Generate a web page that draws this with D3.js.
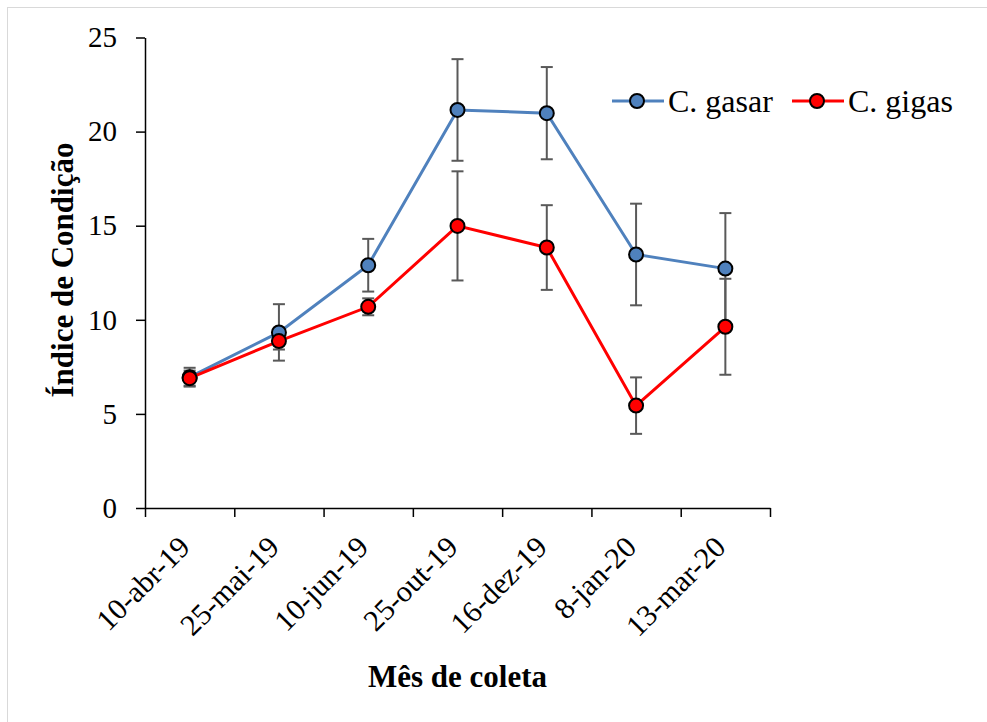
<!DOCTYPE html>
<html>
<head>
<meta charset="utf-8">
<script src="https://cdn.jsdelivr.net/npm/d3@7"></script>
<style>
  body { margin: 0; background: #fff; }
  text { font-family: "Liberation Serif", "Times New Roman", serif; fill: #000; }
</style>
</head>
<body>
<div class="container"></div>
<script>
// collection dates
let dates = ["10-abr-19", "25-mai-19", "10-jun-19", "25-out-19", "16-dez-19", "8-jan-20", "13-mar-20"];
// condition index, mean and error
let gasar = [6.95, 9.33, 12.9, 21.15, 20.98, 13.47, 12.72];
let gasarErr = [0.5, 1.5, 1.4, 2.7, 2.45, 2.7, 2.95];
let gigas = [6.9, 8.87, 10.69, 14.99, 13.84, 5.44, 9.63];
let gigasErr = [0.4, 0.45, 0.45, 2.9, 2.25, 1.5, 2.55];
let yTicks = [0, 5, 10, 15, 20, 25];

let series = [
  { name: "C. gasar", values: gasar, err: gasarErr, color: "#4f81bd" },
  { name: "C. gigas", values: gigas, err: gigasErr, color: "#ff0000" }
];

let svg = d3.select(".container")
  .append("svg")
  .attr("width", 987)
  .attr("height", 722);

svg.append("rect")
  .attr("x", 7.5)
  .attr("y", 7.5)
  .attr("width", 1000)
  .attr("height", 1000)
  .attr("fill", "none")
  .attr("stroke", "#d9d9d9");

let x = d3.scaleBand()
  .domain(dates)
  .range([145, 770]);
let xEdge = d3.scaleLinear()
  .domain([0, dates.length])
  .range([145, 770]);
let y = d3.scaleLinear()
  .domain([0, 25])
  .range([508, 37.5]);

// y axis
let yAxis = svg.append("g")
  .attr("transform", "translate(145,0)")
  .call(d3.axisLeft(y).tickValues(yTicks).tickSize(9).tickSizeOuter(0).tickPadding(19));
yAxis.attr("font-family", null);
yAxis.selectAll("text")
  .attr("font-size", 29);

// x axis with ticks between categories
let xAxis = svg.append("g")
  .attr("transform", "translate(0,508)")
  .call(d3.axisBottom(xEdge).ticks(dates.length).tickFormat("").tickSize(9).tickSizeOuter(0));
svg.selectAll(".domain, .tick line")
  .attr("stroke", "#000")
  .attr("stroke-width", 1.5);

svg.append("g")
  .selectAll("text")
  .data(dates)
  .join("text")
  .attr("transform", d => `translate(${x(d) + x.bandwidth() / 2 + 2},549) rotate(-45)`)
  .attr("text-anchor", "end")
  .attr("font-size", 30)
  .text(d => d);

// axis titles
svg.append("text")
  .attr("x", 457.5)
  .attr("y", 687)
  .attr("text-anchor", "middle")
  .attr("font-size", 31)
  .attr("font-weight", "bold")
  .text("Mês de coleta");
svg.append("text")
  .attr("transform", "translate(72.5,270) rotate(-90)")
  .attr("text-anchor", "middle")
  .attr("font-size", 31)
  .attr("font-weight", "bold")
  .text("Índice de Condição");

let cx = i => x(dates[i]) + x.bandwidth() / 2;

// error bars
let bars = svg.append("g").attr("class", "errorbars");
series.forEach(s => {
  s.values.forEach((v, i) => {
    let lo = y(v - s.err[i]);
    let hi = y(v + s.err[i]);
    bars.append("line")
      .attr("x1", cx(i)).attr("x2", cx(i))
      .attr("y1", lo).attr("y2", hi)
      .attr("stroke", "#595959")
      .attr("stroke-width", 2);
    [lo, hi].forEach(yy => {
      bars.append("line")
        .attr("x1", cx(i) - 6).attr("x2", cx(i) + 6)
        .attr("y1", yy).attr("y2", yy)
        .attr("stroke", "#595959")
        .attr("stroke-width", 2);
    });
  });
});

// lines and markers
let line = d3.line()
  .x((d, i) => cx(i))
  .y(d => y(d));
series.forEach(s => {
  let g = svg.append("g");
  g.append("path")
    .attr("d", line(s.values))
    .attr("fill", "none")
    .attr("stroke", s.color)
    .attr("stroke-width", 3);
  g.selectAll("circle")
    .data(s.values)
    .join("circle")
    .attr("cx", (d, i) => cx(i))
    .attr("cy", d => y(d))
    .attr("r", 7)
    .attr("fill", s.color)
    .attr("stroke", "#000")
    .attr("stroke-width", 2);
});

// legend
let legendX = [612, 792];
series.forEach((s, i) => {
  let lg = svg.append("g")
    .attr("transform", `translate(${legendX[i]},101)`);
  lg.append("line")
    .attr("x1", 0).attr("x2", 52)
    .attr("stroke", s.color)
    .attr("stroke-width", 3);
  lg.append("circle")
    .attr("cx", 25)
    .attr("r", 7)
    .attr("fill", s.color)
    .attr("stroke", "#000")
    .attr("stroke-width", 2);
  lg.append("text")
    .attr("x", 56)
    .attr("y", 11)
    .attr("font-size", 32)
    .text(s.name);
});
</script>
</body>
</html>
